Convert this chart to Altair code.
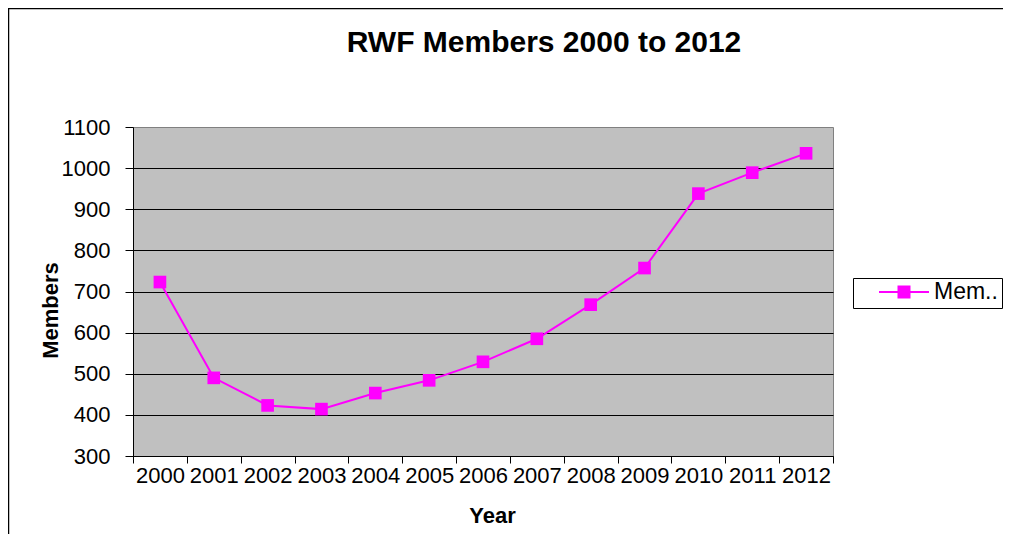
import altair as alt
import pandas as pd

# ---- data ----
years = ["2000", "2001", "2002", "2003", "2004", "2005", "2006",
         "2007", "2008", "2009", "2010", "2011", "2012"]
members = [723, 490, 423, 414, 453, 484, 529, 585, 668, 757, 938, 989, 1036]
series_name = "Members"
y_ticks = [300, 400, 500, 600, 700, 800, 900, 1000, 1100]
title_text = "RWF Members 2000 to 2012"

df = pd.DataFrame({"Year": years, "Members": members, "Series": [series_name] * len(years)})

W, H = 700, 329
PAD = {"left": 125, "top": 119, "right": 170, "bottom": 78}
MAGENTA = "#FF00FF"
FONT = "Liberation Sans"

x_enc = alt.X(
    "Year:O",
    sort=years,
    scale=alt.Scale(type="band", paddingInner=0, paddingOuter=0),
    axis=alt.Axis(
        title="Year", labelAngle=0, tickBand="extent", tickSize=7,
        labelFontSize=22, labelPadding=2, labelOverlap=False,
        titleFontSize=22, titleFontWeight="bold",
        titleX=359, titleY=59, titleBaseline="middle",
        grid=False, domainColor="black", tickColor="black", labelColor="black",
        titleColor="black",
    ),
)
y_enc = alt.Y(
    "Members:Q",
    scale=alt.Scale(domain=[300, 1100], nice=False, zero=False),
    axis=alt.Axis(
        values=y_ticks, format="d", title="Members", tickSize=8, labelPadding=15,
        labelFontSize=22, titleFontSize=22, titleFontWeight="bold",
        titleX=-83, titleY=183, titleAlign="center", titleBaseline="middle",
        gridColor="black", gridWidth=1,
        gridOpacity={"condition": {"test": "datum.value >= 1100", "value": 0}, "value": 1},
        domainColor="black", tickColor="black", labelColor="black", titleColor="black",
    ),
)

legend = alt.Legend(
    title=None, orient="none", legendX=720, legendY=151,
    strokeColor="black", padding=4, fillColor="white",
    labelFontSize=23, labelColor="black", labelOffset=4, labelExpr="'Mem..'",
    symbolType="M-1,0L1,0M-0.22,-0.22L0.22,-0.22L0.22,0.22L-0.22,0.22Z",
    symbolSize=2500, symbolStrokeWidth=2, symbolFillColor=MAGENTA,
    symbolStrokeColor=MAGENTA, symbolOffset=21, clipHeight=20,
)
color_enc = alt.Color(
    "Series:N", scale=alt.Scale(domain=[series_name], range=[MAGENTA]), legend=legend
)

base = alt.Chart(df).encode(x=x_enc, y=y_enc, color=color_enc)
line = base.mark_line(strokeWidth=2)
pts = base.mark_point(shape="square", filled=True, size=160, opacity=1)

frame_data = alt.Data(values=[{"k": 1}])
left_border = alt.Chart(frame_data).mark_rule(color="black", strokeWidth=1.5).encode(
    x=alt.value(-124.5), y=alt.value(-119), y2=alt.value(H + PAD["bottom"])
)
top_border = alt.Chart(frame_data).mark_rule(color="black", strokeWidth=1.5).encode(
    x=alt.value(-125), x2=alt.value(W + PAD["right"]), y=alt.value(-118.5)
)
title_mark = alt.Chart(frame_data).mark_text(
    text=title_text, font=FONT, fontSize=30, fontWeight="bold", color="black",
    align="center", baseline="alphabetic",
).encode(x=alt.value(411), y=alt.value(-75))

chart = alt.layer(line, pts, left_border, top_border, title_mark).properties(
    width=W, height=H, padding=PAD, autosize="none",
).configure(font=FONT).configure_view(
    fill="#C0C0C0", stroke="#808080", strokeWidth=1
).configure_axis(labelFont=FONT, titleFont=FONT).configure_legend(labelFont=FONT)

chart.save("out.html", embed_options={"renderer": "svg", "actions": False})
